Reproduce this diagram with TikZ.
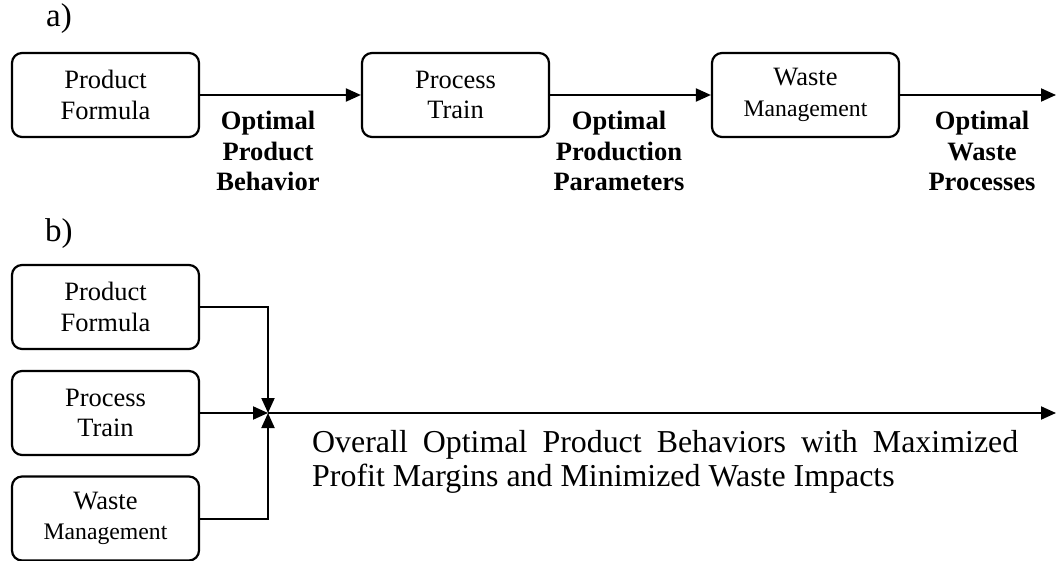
\documentclass[tikz,border=0pt]{standalone}
\usepackage{fontspec}
\setmainfont{Liberation Serif}
\usetikzlibrary{arrows.meta}
\begin{document}
\begin{tikzpicture}[x=1pt,y=-1pt,
  box/.style={draw, line width=2.2pt, rounded corners=10pt, minimum width=187pt, minimum height=84pt,
    align=center, inner sep=0pt, fill=white, font=\fontsize{26.5}{30.3}\selectfont},
  lbl/.style={align=center, inner sep=0pt, font=\bfseries\fontsize{26.5}{30.4}\selectfont},
  conn/.style={line width=2pt, -{Triangle[length=15pt,width=13pt]}},
  tag/.style={anchor=base west, inner sep=0pt, font=\fontsize{33}{36}\selectfont}]
\useasboundingbox (0,0) rectangle (1057,561);
% part a
\node[tag] (ta) at (46,27) {a)};
\node[box] (p1) at (105.5,95) {Product\\Formula};
\node[box] (p2) at (455.5,95) {Process\\Train};
\node[box] (p3) at (805.5,95) {Waste\\{\fontsize{23.7}{30.3}\selectfont Management}};
\coordinate (aend) at (1056,95);
\draw[conn] (p1.east) -- (p2.west);
\draw[conn] (p2.east) -- (p3.west);
\draw[conn] (p3.east) -- (aend);
\node[lbl] (l1) at (268,151.3) {Optimal\\Product\\Behavior};
\node[lbl] (l2) at (619,151.3) {Optimal\\Production\\Parameters};
\node[lbl] (l3) at (982,151.3) {Optimal\\Waste\\Processes};
% part b
\node[tag] (tb) at (45,242) {b)};
\node[box] (q1) at (105.5,307) {Product\\Formula};
\node[box] (q2) at (105.5,413) {Process\\Train};
\node[box] (q3) at (105.5,518.5) {Waste\\{\fontsize{23.7}{30.3}\selectfont Management}};
\coordinate (J) at (268,413);
\coordinate (bend) at (1056,413);
\draw[conn] (q1.east) -| (J);
\draw[conn] (q2.east) -- (J);
\draw[conn] (q3.east) -| (J);
\draw[conn] (J) -- (bend);
\node[anchor=north west, inner sep=0pt, text width=706pt, align=justify,
  font=\fontsize{31.9}{33.3}\selectfont] (res) at (312,430.5)
  {Overall Optimal Product Behaviors with Maximized\linebreak Profit Margins and Minimized Waste Impacts};
\end{tikzpicture}
\end{document}
